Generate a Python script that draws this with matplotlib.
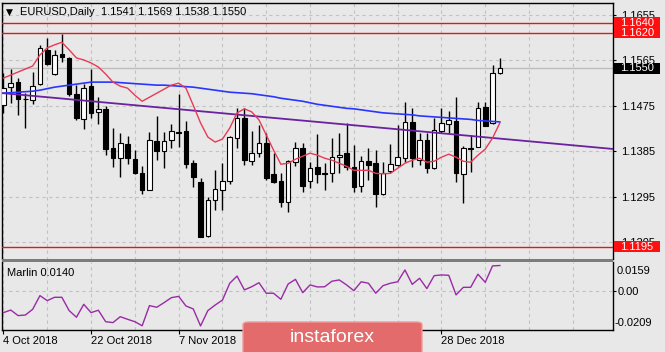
import matplotlib
matplotlib.use('Agg')
import matplotlib.pyplot as plt
import matplotlib.transforms as mtransforms
from matplotlib.patches import Rectangle, FancyBboxPatch
import numpy as np

# daily EURUSD candles, 4 Oct 2018 .. 10 Jan 2019
opens = [1.1476, 1.1512, 1.1522, 1.1489, 1.1486, 1.1518, 1.1586, 1.1538, 1.1578, 1.1570,
         1.1498, 1.1449, 1.1514, 1.1462, 1.1468, 1.1391, 1.1371, 1.1399, 1.1369, 1.1341,
         1.1308, 1.1405, 1.1385, 1.1407, 1.1423, 1.1425, 1.1361, 1.1323, 1.1216, 1.1288,
         1.1308, 1.1325, 1.1411, 1.1451, 1.1365, 1.1381, 1.1401, 1.1339, 1.1325, 1.1284,
         1.1363, 1.1391, 1.1325, 1.1353, 1.1341, 1.1341, 1.1373, 1.1381, 1.1353, 1.1315,
         1.1365, 1.1361, 1.1300, 1.1345, 1.1357, 1.1371, 1.1443, 1.1367, 1.1407, 1.1351,
         1.1425, 1.1439, 1.1445, 1.1339, 1.1391, 1.1393, 1.1472, 1.1441, 1.1541]
highs = [1.1540, 1.1548, 1.1530, 1.1500, 1.1542, 1.1595, 1.1609, 1.1586, 1.1617, 1.1572,
         1.1516, 1.1518, 1.1548, 1.1492, 1.1474, 1.1431, 1.1421, 1.1415, 1.1387, 1.1355,
         1.1423, 1.1454, 1.1423, 1.1439, 1.1498, 1.1445, 1.1367, 1.1331, 1.1294, 1.1347,
         1.1361, 1.1415, 1.1470, 1.1470, 1.1425, 1.1437, 1.1421, 1.1381, 1.1341, 1.1367,
         1.1403, 1.1401, 1.1363, 1.1419, 1.1361, 1.1411, 1.1421, 1.1441, 1.1397, 1.1375,
         1.1391, 1.1387, 1.1363, 1.1399, 1.1437, 1.1482, 1.1470, 1.1421, 1.1421, 1.1451,
         1.1470, 1.1464, 1.1492, 1.1395, 1.1417, 1.1482, 1.1482, 1.1556, 1.1569]
lows = [1.1460, 1.1480, 1.1456, 1.1431, 1.1478, 1.1516, 1.1556, 1.1536, 1.1562, 1.1494,
        1.1447, 1.1429, 1.1451, 1.1439, 1.1377, 1.1353, 1.1333, 1.1359, 1.1339, 1.1300,
        1.1308, 1.1367, 1.1351, 1.1391, 1.1393, 1.1351, 1.1314, 1.1214, 1.1214, 1.1268,
        1.1268, 1.1319, 1.1391, 1.1357, 1.1357, 1.1373, 1.1327, 1.1321, 1.1274, 1.1264,
        1.1355, 1.1304, 1.1312, 1.1321, 1.1308, 1.1323, 1.1341, 1.1347, 1.1304, 1.1304,
        1.1327, 1.1274, 1.1298, 1.1341, 1.1355, 1.1363, 1.1353, 1.1357, 1.1341, 1.1349,
        1.1421, 1.1421, 1.1323, 1.1282, 1.1343, 1.1393, 1.1435, 1.1439, 1.1538]
closes = [1.1510, 1.1520, 1.1488, 1.1488, 1.1514, 1.1590, 1.1558, 1.1576, 1.1572, 1.1498,
          1.1451, 1.1510, 1.1460, 1.1468, 1.1389, 1.1371, 1.1401, 1.1371, 1.1341, 1.1308,
          1.1407, 1.1385, 1.1405, 1.1425, 1.1422, 1.1359, 1.1333, 1.1214, 1.1288, 1.1310,
          1.1325, 1.1413, 1.1451, 1.1367, 1.1381, 1.1401, 1.1331, 1.1323, 1.1284, 1.1365,
          1.1391, 1.1315, 1.1351, 1.1339, 1.1340, 1.1373, 1.1377, 1.1353, 1.1313, 1.1365,
          1.1357, 1.1300, 1.1341, 1.1359, 1.1373, 1.1443, 1.1371, 1.1407, 1.1351, 1.1427,
          1.1441, 1.1447, 1.1341, 1.1391, 1.1390, 1.1470, 1.1435, 1.1540, 1.1550]

# moving averages as drawn
ma_red = [1.1530, 1.1536, 1.1542, 1.1548, 1.1554, 1.1576, 1.1590, 1.1596, 1.1601, 1.1586,
          1.1570, 1.1566, 1.1560, 1.1552, 1.1538, 1.1522, 1.1514, 1.1510, 1.1496, 1.1484,
          1.1492, 1.1500, 1.1508, 1.1516, 1.1520, 1.1510, 1.1476, 1.1441, 1.1413, 1.1403,
          1.1409, 1.1431, 1.1461, 1.1469, 1.1463, 1.1447, 1.1417, 1.1387, 1.1359, 1.1361,
          1.1369, 1.1375, 1.1381, 1.1377, 1.1371, 1.1367, 1.1361, 1.1355, 1.1347, 1.1347,
          1.1347, 1.1341, 1.1340, 1.1341, 1.1351, 1.1361, 1.1367, 1.1371, 1.1363, 1.1365,
          1.1373, 1.1379, 1.1373, 1.1365, 1.1363, 1.1377, 1.1389, 1.1411, 1.1441]
ma_blue = [1.1500, 1.1501, 1.1502, 1.1503, 1.1504, 1.1506, 1.1509, 1.1512, 1.1514, 1.1516,
           1.1518, 1.1520, 1.1522, 1.1522, 1.1522, 1.1522, 1.1521, 1.1520, 1.1519, 1.1518,
           1.1517, 1.1516, 1.1516, 1.1515, 1.1514, 1.1513, 1.1512, 1.1510, 1.1508, 1.1506,
           1.1504, 1.1502, 1.1501, 1.1500, 1.1499, 1.1497, 1.1495, 1.1493, 1.1490, 1.1488,
           1.1486, 1.1484, 1.1481, 1.1478, 1.1476, 1.1474, 1.1472, 1.1470, 1.1469, 1.1467,
           1.1465, 1.1463, 1.1461, 1.1460, 1.1459, 1.1458, 1.1457, 1.1455, 1.1454, 1.1453,
           1.1452, 1.1451, 1.1450, 1.1449, 1.1448, 1.1446, 1.1445, 1.1444, 1.1443]

# Marlin oscillator (lower window)
marlin = [-0.0115, -0.0101, -0.0131, -0.0128, -0.0097, -0.0023, -0.0050, -0.0032, -0.0032, -0.0104,
          -0.0140, -0.0070, -0.0115, -0.0102, -0.0164, -0.0169, -0.0137, -0.0151, -0.0164, -0.0186,
          -0.0077, -0.0086, -0.0061, -0.0034, -0.0027, -0.0079, -0.0095, -0.0187, -0.0104, -0.0074,
          -0.0047, 0.0044, 0.0083, 0.0008, 0.0025, 0.0047, -0.0010, -0.0010, -0.0043, 0.0040,
          0.0065, -0.0007, 0.0035, 0.0024, 0.0025, 0.0055, 0.0062, 0.0035, 0.0004, 0.0052,
          0.0044, -0.0010, 0.0031, 0.0044, 0.0052, 0.0116, 0.0038, 0.0071, 0.0015, 0.0085,
          0.0089, 0.0087, -0.0019, 0.0022, 0.0022, 0.0093, 0.0049, 0.0138, 0.0140]

trend_idx = [0, 83]
trend_price = [1.1500, 1.1390]
levels = [1.1640, 1.1620, 1.1195]
last_price = 1.1550
price_ticks = [1.1655, 1.1565, 1.1475, 1.1385, 1.1295, 1.1205]
marlin_range = [-0.0209, 0.0159]
date_idx = [0, 12, 24, 60]
date_labels = ['4 Oct 2018', '22 Oct 2018', '7 Nov 2018', '28 Dec 2018']

plt.rcParams['font.family'] = ['Liberation Sans', 'DejaVu Sans']

BG = '#e8e8e8'
GRID = '#c2c2c2'
W, H = 665, 352


def px_box(x0, y0, x1, y1):
    return [x0 / W, 1 - y1 / H, (x1 - x0) / W, (y1 - y0) / H]


fig = plt.figure(figsize=(W / 100, H / 100), dpi=100, facecolor=BG)
ax = fig.add_axes(px_box(2, 3, 613, 259.5), facecolor=BG)
ax2 = fig.add_axes(px_box(2, 262, 613, 330), facecolor=BG)

o, h, l, c = map(np.array, (opens, highs, lows, closes))
idx = np.arange(len(c))
up = c >= o

# grid
for g in range(0, 84, 6):
    ax.axvline(g, color=GRID, lw=0.8, ls=(0, (3, 3)), zorder=1)
    ax2.axvline(g, color=GRID, lw=0.8, ls=(0, (3, 3)), zorder=1)
for p in price_ticks:
    ax.axhline(p, color=GRID, lw=0.8, ls=(0, (3, 3)), zorder=1)
ax2.axhline(0, color=GRID, lw=0.8, ls=(0, (3, 3)), zorder=1)
ax.axhline(last_price, color='#bdbdbd', lw=1, zorder=1.5)

# candles
ax.vlines(idx, l, h, color='black', lw=1, zorder=3)
bot = np.minimum(o, c)
hgt = np.maximum(np.abs(c - o), 0.00007)
ax.bar(idx[up], hgt[up], bottom=bot[up], width=0.62, facecolor='white',
       edgecolor='black', lw=0.8, zorder=4)
ax.bar(idx[~up], hgt[~up], bottom=bot[~up], width=0.62, facecolor='black',
       edgecolor='black', lw=0.8, zorder=4)

# indicators
ax.axline((trend_idx[0], trend_price[0]), (trend_idx[1], trend_price[1]),
          color='#6a22a0', lw=1.3, zorder=5)
ax.plot(idx, ma_blue, color='#2b35ff', lw=1.2, zorder=6)
ax.plot(idx, ma_red, color='#e83a55', lw=1, zorder=6)
for lv in levels:
    ax.axhline(lv, color='#e01818', lw=1, zorder=5)

ax.set_xlim(-0.2, 83.5)
ax.set_ylim(1.1170, 1.1679)
ax.set_xticks([])
ax.yaxis.tick_right()
ax.set_yticks(price_ticks, [f'{p:.4f}' for p in price_ticks])
ax.tick_params(axis='y', direction='out', length=2.5, width=0.8, pad=3,
               labelsize=8, colors='black')
for s in ['top', 'left', 'right']:
    ax.spines[s].set_color('black')
    ax.spines[s].set_linewidth(1)
ax.spines['bottom'].set_visible(False)

# price tags on the right scale
tr = mtransforms.blended_transform_factory(ax.transAxes, ax.transData)
tag_h = 11 * (1.1679 - 1.1170) / 256.5
for lv, col in [(levels[0], '#ff1010'), (levels[1], '#ff1010'), (levels[2], '#ff1010'),
                (last_price, 'black')]:
    ax.add_patch(Rectangle((1.002, lv - tag_h / 2), 0.0753, tag_h, transform=tr,
                           facecolor=col, edgecolor='none', clip_on=False, zorder=10))
    ax.text(1.0115, lv, f'{lv:.4f}', transform=tr, color='white', fontsize=8,
            ha='left', va='center', zorder=11, clip_on=False)

# lower window
ax2.plot(idx, marlin, color='#9a2aa6', lw=1, zorder=4)
ax2.set_xlim(-0.2, 83.5)
ax2.set_ylim(marlin_range)
ax2.yaxis.tick_right()
ax2.set_yticks([0.0], ['0.00'])
ax2.tick_params(axis='y', direction='out', length=2, width=0.8, pad=1.5,
                labelsize=8, colors='black')
tr2 = mtransforms.blended_transform_factory(ax2.transAxes, ax2.transData)
ax2.annotate(f'{marlin_range[1]:.4f}', xy=(1, marlin_range[1]), xycoords=tr2,
             xytext=(2.5, -6.3), textcoords='offset points', fontsize=8,
             ha='left', va='center', annotation_clip=False)
ax2.annotate(f'{marlin_range[0]:.4f}', xy=(1, marlin_range[0]), xycoords=tr2,
             xytext=(1, 5.3), textcoords='offset points', fontsize=8,
             ha='left', va='center', annotation_clip=False)
ax2.set_xticks(date_idx, date_labels)
for lbl in ax2.get_xticklabels():
    lbl.set_horizontalalignment('left')
ax2.tick_params(axis='x', direction='out', length=3, width=0.8, pad=1.5,
                labelsize=8, colors='black')
for s in ['bottom', 'left', 'right']:
    ax2.spines[s].set_color('black')
    ax2.spines[s].set_linewidth(1)
ax2.spines['top'].set_visible(False)
ax2.text(5 / 611, (330 - 272.7) / 68, f'Marlin {marlin[-1]:.4f}', transform=ax2.transAxes,
         fontsize=8, ha='left', va='center')

# separator between windows
fig.patches.append(Rectangle((2 / W, 1 - 262 / H), 611 / W, 2.6 / H, transform=fig.transFigure,
                             facecolor='#7c7c7c', edgecolor='none'))

# header
fig.text(6 / W, 1 - 12 / H, '\u25bc', fontsize=6.5, ha='left', va='center',
         family=['DejaVu Sans'])
fig.text(20 / W, 1 - 12 / H,
         f'EURUSD,Daily  {opens[-1]:.4f} {highs[-1]:.4f} {lows[-1]:.4f} {closes[-1]:.4f}',
         fontsize=8, ha='left', va='center')

# watermark
fig.patches.append(FancyBboxPatch((243 / W, 1 - 356 / H), 179 / W, 34 / H,
                                  boxstyle='round,pad=0,rounding_size=0.008',
                                  transform=fig.transFigure, facecolor='#e36b6b',
                                  edgecolor='#ef9a9a', lw=1))
fig.text(332 / W, 1 - 337 / H, 'instaforex', color='white', fontsize=14,
         ha='center', va='center')

fig.savefig('out.png', dpi=100, facecolor=BG)
